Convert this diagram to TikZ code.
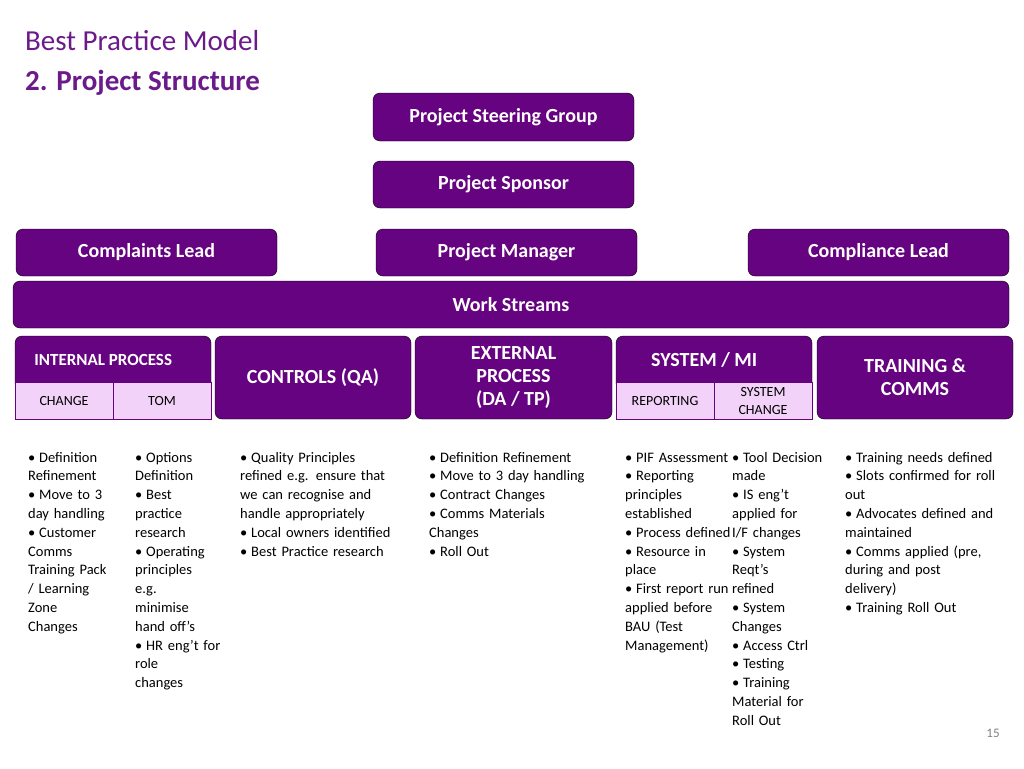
\documentclass[tikz,border=0pt]{standalone}
\usepackage{fontspec}
\setmainfont{Carlito}
\usetikzlibrary{positioning}
\definecolor{stream}{HTML}{660380}
\definecolor{substream}{HTML}{F2D2F8}
\definecolor{heading}{HTML}{6B1A8A}
\newcommand{\itm}[1]{\par\hangindent=11pt\hangafter=1\noindent\makebox[11pt][l]{\textbullet}#1}

\begin{document}
\begin{tikzpicture}[x=1pt,y=-1pt]
  \tikzstyle{role}=[fill=stream, rounded corners=7pt, text=white, font=\fontsize{20}{23}\selectfont\bfseries, align=center]
  \tikzstyle{part}=[fill=substream, draw=stream, thick, font=\fontsize{14}{18}\selectfont, align=center]
  \tikzstyle{notes}=[anchor=north west, inner sep=0pt, font=\fontsize{14.5}{18.8}\selectfont, align=left]
  \useasboundingbox (0,0) rectangle (1024,768);

  % Title
  \node[anchor=west, text=heading, align=left, font=\fontsize{29}{40}\selectfont, inner sep=0pt] (Title) at (25,63)
    {Best Practice Model\\\textbf{2. Project Structure}};

  % Hierarchy
  \draw[role] (373,93) rectangle (634,141) node[midway] (Steering) {Project Steering Group};
  \draw[role] (373,161) rectangle (634,208) node[midway] (Sponsor) {Project Sponsor};
  \draw[role] (16,229) rectangle (277,276) node[midway] (Complaints) {Complaints Lead};
  \draw[role] (376,229) rectangle (637,276) node[midway] (Manager) {Project Manager};
  \draw[role] (748,229) rectangle (1009,276) node[midway] (Compliance) {Compliance Lead};
  \draw[role] (13,281) rectangle (1009,328) node[midway] (Streams) {Work Streams};

  % Work streams
  \draw[role] (15,336) rectangle (211,390) node[pos=0.45] (Internal) {\fontsize{17}{20}\selectfont INTERNAL PROCESS};
  \draw[role] (215,336) rectangle (411,419) node[midway] (Controls) {CONTROLS (QA)};
  \draw[role] (415,336) rectangle (612,419) node[midway] (External) {EXTERNAL\\PROCESS\\(DA / TP)};
  \draw[role] (616,336) rectangle (812,390) node[pos=0.45] (System) {SYSTEM / MI};
  \draw[role] (817,336) rectangle (1013,419) node[midway] (Training) {TRAINING \&\\COMMS};
  \draw[part] (15,382) rectangle (113,419) node[midway] (Change) {CHANGE};
  \draw[part] (113,382) rectangle (211,419) node[midway] (Tom) {TOM};
  \draw[part] (616,382) rectangle (714,419) node[midway] (Reporting) {REPORTING};
  \draw[part] (714,382) rectangle (812,419) node[midway] (SysChange) {SYSTEM\\CHANGE};

  % Activities
  \node[notes, text width=100pt] (ChangeNotes) at (28,443) {\itm{Definition\\Refinement}\itm{Move to 3\\day handling}\itm{Customer\\Comms\\Training Pack\\/ Learning\\Zone\\Changes}};
  \node[notes, text width=100pt] (TomNotes) at (135,443) {\itm{Options\\Definition}\itm{Best\\practice\\research}\itm{Operating\\principles\\e.g.\\minimise\\hand off’s}\itm{HR eng’t for\\role\\changes}};
  \node[notes, text width=180pt] (ControlNotes) at (240,443) {\itm{Quality Principles\\refined e.g. ensure that\\we can recognise and\\handle appropriately}\itm{Local owners identified}\itm{Best Practice research}};
  \node[notes, text width=180pt] (ExternalNotes) at (429,443) {\itm{Definition Refinement}\itm{Move to 3 day handling}\itm{Contract Changes}\itm{Comms Materials\\Changes}\itm{Roll Out}};
  \node[notes, text width=120pt] (ReportNotes) at (625,443) {\itm{PIF Assessment}\itm{Reporting\\principles\\established}\itm{Process defined}\itm{Resource in\\place}\itm{First report run\\applied before\\BAU (Test\\Management)}};
  \node[notes, text width=100pt] (SysNotes) at (732,443) {\itm{Tool Decision\\made}\itm{IS eng’t\\applied for\\I/F changes}\itm{System\\Reqt’s\\refined}\itm{System\\Changes}\itm{Access Ctrl}\itm{Testing}\itm{Training\\Material for\\Roll Out}};
  \node[notes, text width=170pt] (TrainNotes) at (845,443) {\itm{Training needs defined}\itm{Slots confirmed for roll\\out}\itm{Advocates defined and\\maintained}\itm{Comms applied (pre,\\during and post\\delivery)}\itm{Training Roll Out}};

  \node[text=gray, font=\fontsize{13}{15}\selectfont] (Page) at (993,733) {15};
\end{tikzpicture}
\end{document}
